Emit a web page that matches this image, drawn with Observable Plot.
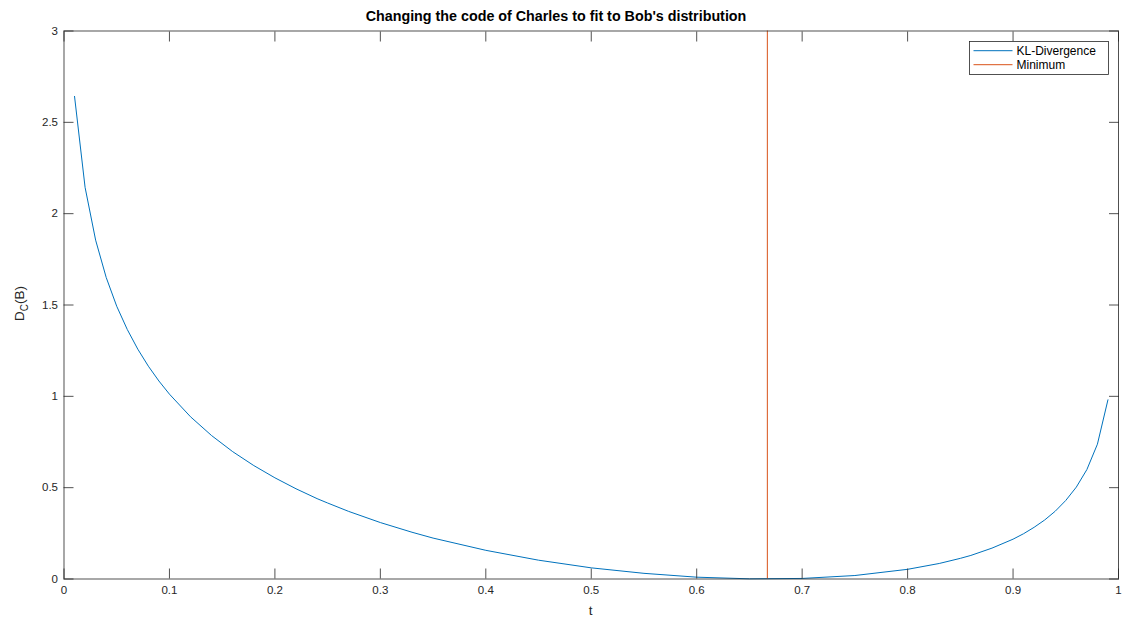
<!DOCTYPE html>
<html>
<head>
<meta charset="utf-8">
<script src="https://cdn.jsdelivr.net/npm/d3@7"></script>
<script src="https://cdn.jsdelivr.net/npm/@observablehq/plot@0.6"></script>
<style>
  html, body { margin: 0; padding: 0; background: #fff; }
  #chart { position: relative; width: 1122px; height: 619px; }
  svg { font-family: "Liberation Sans", Arial, Helvetica, sans-serif; }
</style>
</head>
<body>
<div id="chart"></div>
<script>
// Data
const tValues = [0.01, 0.02, 0.03, 0.04, 0.05, 0.06, 0.07, 0.08, 0.09, 0.10,
  0.12, 0.14, 0.16, 0.18, 0.20, 0.22, 0.24, 0.25, 0.27, 0.30, 0.33, 0.35, 0.40, 0.45, 0.50, 0.55,
  0.60, 0.65, 0.70, 0.75, 0.80, 0.83, 0.85, 0.86, 0.88, 0.90, 0.91, 0.92, 0.93, 0.94,
  0.95, 0.96, 0.97, 0.98, 0.99];
const klValues = [2.642, 2.144, 1.855, 1.651, 1.493, 1.366, 1.258, 1.165, 1.084, 1.012,
  0.888, 0.785, 0.697, 0.621, 0.554, 0.494, 0.440, 0.416, 0.370, 0.309, 0.256, 0.224, 0.157, 0.103, 0.061, 0.031,
  0.010, 0.001, 0.003, 0.019, 0.053, 0.085, 0.113, 0.129, 0.169, 0.218, 0.248, 0.283, 0.323, 0.371,
  0.430, 0.503, 0.599, 0.738, 0.981];
const tMinimum = 0.667;
const xTicks = [0, 0.1, 0.2, 0.3, 0.4, 0.5, 0.6, 0.7, 0.8, 0.9, 1];
const yTicks = [0, 0.5, 1, 1.5, 2, 2.5, 3];
const titleText = "Changing the code of Charles to fit to Bob's distribution";
const seriesNames = ["KL-Divergence", "Minimum"];
const seriesColors = ["#0072BD", "#D95319"];

const data = tValues.map((t, i) => ({t, kl: klValues[i]}));
const axisColor = "#262626";
const fmt = d => String(d);

const W = 1122, H = 619;
const mL = 63.5, mR = 4, mT = 30.5, mB = 40.5;

const chart = Plot.plot({
  width: W,
  height: H,
  marginLeft: mL,
  marginRight: mR,
  marginTop: mT,
  marginBottom: mB,
  style: {fontFamily: "'Liberation Sans', Arial, sans-serif", fontSize: "11.5px", color: axisColor, background: "#fff"},
  x: {domain: [0, 1]},
  y: {domain: [0, 3]},
  marks: [
    Plot.line(data, {x: "t", y: "kl", stroke: seriesColors[0], strokeWidth: 1}),
    Plot.ruleX([tMinimum], {stroke: seriesColors[1], strokeWidth: 1}),
    Plot.frame({stroke: axisColor, strokeWidth: 0.8}),
    Plot.axisX({anchor: "bottom", ticks: xTicks, tickFormat: fmt, tickSize: -10, tickPadding: 17, stroke: axisColor, strokeWidth: 0.8, fill: axisColor, label: null}),
    Plot.axisX({anchor: "top", ticks: xTicks, tickFormat: () => "", tickSize: -10, stroke: axisColor, strokeWidth: 0.8, label: null}),
    Plot.axisY({anchor: "left", ticks: yTicks, tickFormat: fmt, tickSize: -10, tickPadding: 16, stroke: axisColor, strokeWidth: 0.8, fill: axisColor, label: null}),
    Plot.axisY({anchor: "right", ticks: yTicks, tickFormat: () => "", tickSize: -10, stroke: axisColor, strokeWidth: 0.8, label: null})
  ]
});
document.getElementById("chart").appendChild(chart);

const svg = d3.select(chart);
// Title
svg.append("text")
  .attr("x", 556).attr("y", 21)
  .attr("text-anchor", "middle")
  .attr("font-weight", "bold")
  .attr("font-size", "14.3px")
  .attr("fill", "#000")
  .text(titleText);
// x label
svg.append("text")
  .attr("x", (mL + W - mR) / 2).attr("y", 615)
  .attr("text-anchor", "middle")
  .attr("font-size", "13.5px")
  .attr("fill", axisColor)
  .text("t");
// y label with subscript
const yl = svg.append("text")
  .attr("transform", `translate(23.5, 303.5) rotate(-90)`)
  .attr("text-anchor", "middle")
  .attr("font-size", "13.5px")
  .attr("fill", axisColor);
yl.append("tspan").text("D");
yl.append("tspan").attr("font-size", "10px").attr("dy", 4).text("C");
yl.append("tspan").attr("dy", -4).text("(B)");

// Legend
const lg = svg.append("g").attr("text-anchor", "start");
lg.append("rect")
  .attr("x", 969.5).attr("y", 41.5).attr("width", 139).attr("height", 33)
  .attr("fill", "#fff").attr("stroke", axisColor).attr("stroke-width", 0.8);
seriesNames.forEach((name, i) => {
  const y = 50.7 + i * 14;
  lg.append("line").attr("x1", 973.5).attr("x2", 1012.5).attr("y1", y).attr("y2", y)
    .attr("stroke", seriesColors[i]).attr("stroke-width", 1);
  lg.append("text").attr("x", 1016.5).attr("y", y).attr("dy", "0.35em")
    .attr("text-anchor", "start")
    .attr("font-size", "12px").attr("fill", "#000").text(name);
});
</script>
</body>
</html>
